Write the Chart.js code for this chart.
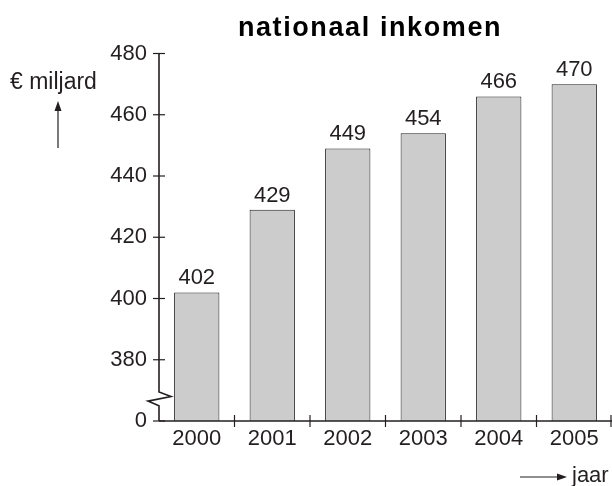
<!DOCTYPE html>
<html>
<head>
<meta charset="utf-8">
<script src="https://cdn.jsdelivr.net/npm/chart.js@4.4.1/dist/chart.umd.min.js"></script>
<style>
  html, body { margin: 0; padding: 0; background: #fff; }
  #wrap { width: 612px; height: 486px; position: relative; }
</style>
</head>
<body>
<div id="wrap"><canvas id="inkomenChart"></canvas></div>
<script>
const jaren = ['2000', '2001', '2002', '2003', '2004', '2005'];
const inkomen = [402, 429, 449, 454, 466, 470];
const yMin = 360;   // shown as "0" because of the axis break
const yMax = 480;
const yStep = 20;

const inkColor = '#231f20';
const fontFam = '"Liberation Sans", Arial, Helvetica, sans-serif';

const decorPlugin = {
    id: 'decor',
    afterDraw(chart) {
        const ctx = chart.ctx;
        const area = chart.chartArea;
        const ys = chart.scales.y;
        const xs = chart.scales.x;
        const ax = area.left;
        const base = ys.getPixelForValue(yMin);

        ctx.save();
        ctx.strokeStyle = inkColor;
        ctx.fillStyle = inkColor;
        ctx.lineWidth = 1.6;

        // y axis with break zigzag
        ctx.beginPath();
        ctx.moveTo(ax, ys.getPixelForValue(yMax));
        ctx.lineTo(ax, ys.getPixelForValue(369.5));
        ctx.lineTo(ax + 12, ys.getPixelForValue(368));
        ctx.lineTo(ax - 11, ys.getPixelForValue(366.5));
        ctx.lineTo(ax, ys.getPixelForValue(365));
        ctx.lineTo(ax, base);
        ctx.stroke();

        // x axis
        ctx.beginPath();
        ctx.moveTo(ax, base);
        ctx.lineTo(area.right, base);
        ctx.stroke();

        // y ticks crossing the axis
        ctx.lineWidth = 1.2;
        ys.ticks.forEach(t => {
            const py = ys.getPixelForValue(t.value);
            ctx.beginPath();
            ctx.moveTo(ax - 6, py);
            ctx.lineTo(ax + 6, py);
            ctx.stroke();
        });

        // x ticks at category boundaries
        for (let i = 1; i <= jaren.length; i++) {
            let px = xs.getPixelForValue(i - 0.5);
            if (px > area.right - 1) px = area.right - 1;
            ctx.beginPath();
            ctx.moveTo(px, base - 6);
            ctx.lineTo(px, base + 6);
            ctx.stroke();
        }

        // value labels above the bars
        ctx.font = '22px ' + fontFam;
        ctx.textAlign = 'center';
        ctx.textBaseline = 'alphabetic';
        chart.getDatasetMeta(0).data.forEach((bar, i) => {
            ctx.fillText(String(inkomen[i]), bar.x, bar.y - 8);
        });

        // title
        ctx.fillStyle = '#000';
        ctx.font = 'bold 27px ' + fontFam;
        ctx.letterSpacing = '1.6px';
        ctx.fillText('nationaal inkomen', 370, 36);
        ctx.letterSpacing = '0px';

        // y axis caption with arrow
        ctx.fillStyle = inkColor;
        ctx.font = '23px ' + fontFam;
        ctx.textAlign = 'left';
        ctx.fillText('€ miljard', 10, 89);
        ctx.lineWidth = 1.2;
        ctx.beginPath();
        ctx.moveTo(58, 148);
        ctx.lineTo(58, 106);
        ctx.stroke();
        ctx.beginPath();
        ctx.moveTo(58, 101);
        ctx.lineTo(54.5, 111);
        ctx.lineTo(61.5, 111);
        ctx.closePath();
        ctx.fill();

        // x axis caption with arrow
        ctx.font = '22px ' + fontFam;
        ctx.fillText('jaar', 572, 482);
        ctx.beginPath();
        ctx.moveTo(520, 477);
        ctx.lineTo(560, 477);
        ctx.stroke();
        ctx.beginPath();
        ctx.moveTo(567, 477);
        ctx.lineTo(557, 473.5);
        ctx.lineTo(557, 480.5);
        ctx.closePath();
        ctx.fill();

        ctx.restore();
    }
};

new Chart(document.getElementById('inkomenChart'), {
    type: 'bar',
    data: {
        labels: jaren,
        datasets: [{
            data: inkomen,
            backgroundColor: '#cccccc',
            borderColor: inkColor,
            borderWidth: 1,
            borderSkipped: 'start',
            barPercentage: 0.6,
            categoryPercentage: 1.0
        }]
    },
    options: {
        responsive: true,
        maintainAspectRatio: false,
        animation: false,
        layout: { padding: { top: 53.5, left: 0, right: 0, bottom: 0 } },
        plugins: {
            legend: { display: false },
            tooltip: { enabled: false },
            title: { display: false }
        },
        scales: {
            x: {
                offset: true,
                grid: { display: false, drawTicks: false },
                border: { display: false },
                ticks: {
                    color: inkColor,
                    font: { family: fontFam, size: 22 },
                    padding: 5,
                    maxRotation: 0
                },
                afterFit(scale) { scale.height = 65; }
            },
            y: {
                min: yMin,
                max: yMax,
                grid: { display: false, drawTicks: false },
                border: { display: false },
                ticks: {
                    stepSize: yStep,
                    color: inkColor,
                    font: { family: fontFam, size: 22 },
                    padding: 12,
                    callback: v => (v === yMin ? '0' : v)
                },
                afterFit(scale) { scale.width = 159; }
            }
        }
    },
    plugins: [decorPlugin]
});
</script>
</body>
</html>
